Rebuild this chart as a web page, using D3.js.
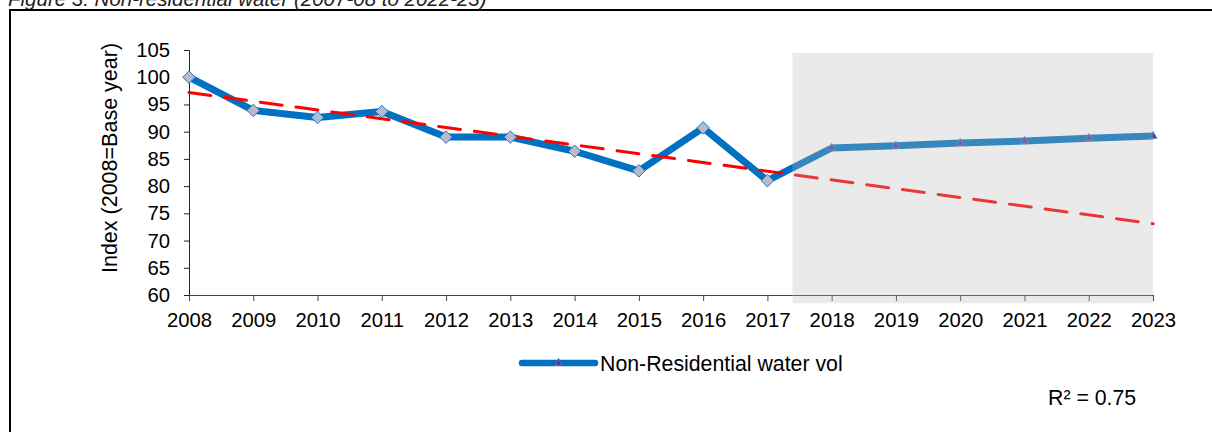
<!DOCTYPE html>
<html>
<head>
<meta charset="utf-8">
<script src="https://d3js.org/d3.v7.min.js"></script>
<style>
  html, body { margin: 0; padding: 0; background: #fff; }
  body { font-family: 'Liberation Sans', Arial, sans-serif; }
  svg text { font-family: 'Liberation Sans', Arial, sans-serif; fill: #000; }
</style>
</head>
<body>
<svg id="chart" width="1212" height="432"></svg>
<script>
// values
const years = [2008, 2009, 2010, 2011, 2012, 2013, 2014, 2015,
               2016, 2017, 2018, 2019, 2020, 2021, 2022, 2023];
const waterIndex = [100, 93.9, 92.6, 93.7, 89.0, 89.0, 86.4, 82.8,
                    90.7, 81.0, 87.0, 87.4, 87.9, 88.3, 88.8, 89.2];
const lastActualYear = 2017;
const trendYears = [2008, 2023];
const trendValues = [97.2, 73.1];
const yTicks = [60, 65, 70, 75, 80, 85, 90, 95, 100, 105];
const shadeYears = [2017.39, 2023];
const shadeValues = [104.45, 58.5];
const seriesName = "Non-Residential water vol";
const rSquared = "R² = 0.75";
const titleText = "Figure 3: Non-residential water (2007-08 to 2022-23)";

const data = years.map((yr, i) => ({ year: yr, value: waterIndex[i] }));
const trend = trendYears.map((yr, i) => ({ year: yr, value: trendValues[i] }));

const width = 1212, height = 432;
const margin = { top: 50, right: 59, bottom: 137, left: 189 };
const tickFont = "20.3px";
const labelFont = "21.3px";

const svg = d3.select("#chart");

const x = d3.scaleLinear()
  .domain([years[0], years[years.length - 1]])
  .range([margin.left, width - margin.right]);

const y = d3.scaleLinear()
  .domain([60, 105])
  .range([height - margin.bottom, margin.top]);

// title, cut off by the top of the page as in the source
svg.append("text")
  .attr("x", 8)
  .attr("y", 5.5)
  .style("font-size", "20.5px")
  .style("font-style", "italic")
  .style("fill", "#222")
  .text(titleText);

// frame
svg.append("path")
  .attr("d", `M10,${height} V10 H${width}`)
  .attr("fill", "none")
  .attr("stroke", "#000")
  .attr("stroke-width", 2);

// x axis
const xAxis = svg.append("g")
  .attr("transform", `translate(0,${y(60)})`)
  .call(d3.axisBottom(x)
    .tickValues(years)
    .tickFormat(d3.format("d"))
    .tickSize(6)
    .tickPadding(12));
xAxis.select(".domain").attr("stroke", "#444");
xAxis.selectAll(".tick line").attr("stroke", "#444");
xAxis.selectAll("text").style("font-size", tickFont).attr("fill", "#000");

// y axis
const yAxis = svg.append("g")
  .attr("transform", `translate(${x(years[0])},0)`)
  .call(d3.axisLeft(y)
    .tickValues(yTicks)
    .tickSize(5)
    .tickSizeOuter(5)
    .tickPadding(14));
yAxis.select(".domain").attr("stroke", "#222");
yAxis.selectAll(".tick line").attr("stroke", "#222");
yAxis.selectAll("text").style("font-size", tickFont).attr("fill", "#000");

// y axis title
svg.append("text")
  .attr("transform", "translate(117,158) rotate(-90)")
  .attr("text-anchor", "middle")
  .style("font-size", "21.5px")
  .text("Index (2008=Base year)");

// main series
const line = d3.line()
  .x(d => x(d.year))
  .y(d => y(d.value));

svg.append("path")
  .datum(data)
  .attr("d", line)
  .attr("fill", "none")
  .attr("stroke", "#0070C0")
  .attr("stroke-width", 7)
  .attr("stroke-linejoin", "round");

// linear trend
svg.append("path")
  .datum(trend)
  .attr("d", line)
  .attr("fill", "none")
  .attr("stroke", "#FF0000")
  .attr("stroke-width", 3)
  .attr("stroke-linecap", "round")
  .attr("stroke-dasharray", "22,14");

// markers: diamonds for recorded years, triangles for the rest
const diamond = d3.symbol().type(d3.symbolDiamond2).size(100);
const triangle = d3.symbol().type(d3.symbolTriangle).size(26);

svg.selectAll(".diamond")
  .data(data.filter(d => d.year <= lastActualYear))
  .enter().append("path")
  .attr("class", "diamond")
  .attr("transform", d => `translate(${x(d.year)},${y(d.value)})`)
  .attr("d", diamond)
  .attr("fill", "#B8B9C9")
  .attr("stroke", "#1F78C8")
  .attr("stroke-width", 1);

svg.selectAll(".tri")
  .data(data.filter(d => d.year > lastActualYear))
  .enter().append("path")
  .attr("class", "tri")
  .attr("transform", d => `translate(${x(d.year)},${y(d.value)})`)
  .attr("d", triangle)
  .attr("fill", "#70307A")
  .attr("stroke", "#2F86D0")
  .attr("stroke-width", 1);

// forecast shading, drawn over everything
svg.append("rect")
  .attr("x", x(shadeYears[0]))
  .attr("y", y(shadeValues[0]))
  .attr("width", x(shadeYears[1]) - x(shadeYears[0]))
  .attr("height", y(shadeValues[1]) - y(shadeValues[0]))
  .attr("fill", "rgb(185,185,185)")
  .attr("fill-opacity", 0.3);

// legend
const legend = svg.append("g").attr("transform", "translate(522,363)");
legend.append("line")
  .attr("x1", 0).attr("x2", 73)
  .attr("stroke", "#0070C0")
  .attr("stroke-width", 6.5)
  .attr("stroke-linecap", "round");
legend.append("path")
  .attr("transform", "translate(36.5,0)")
  .attr("d", triangle)
  .attr("fill", "#70307A")
  .attr("stroke", "#2F86D0")
  .attr("stroke-width", 1);
legend.append("text")
  .attr("x", 78)
  .attr("y", 8)
  .style("font-size", labelFont)
  .text(seriesName);

// R squared label
svg.append("text")
  .attr("x", 1048)
  .attr("y", 405)
  .style("font-size", labelFont)
  .text(rSquared);
</script>
</body>
</html>
